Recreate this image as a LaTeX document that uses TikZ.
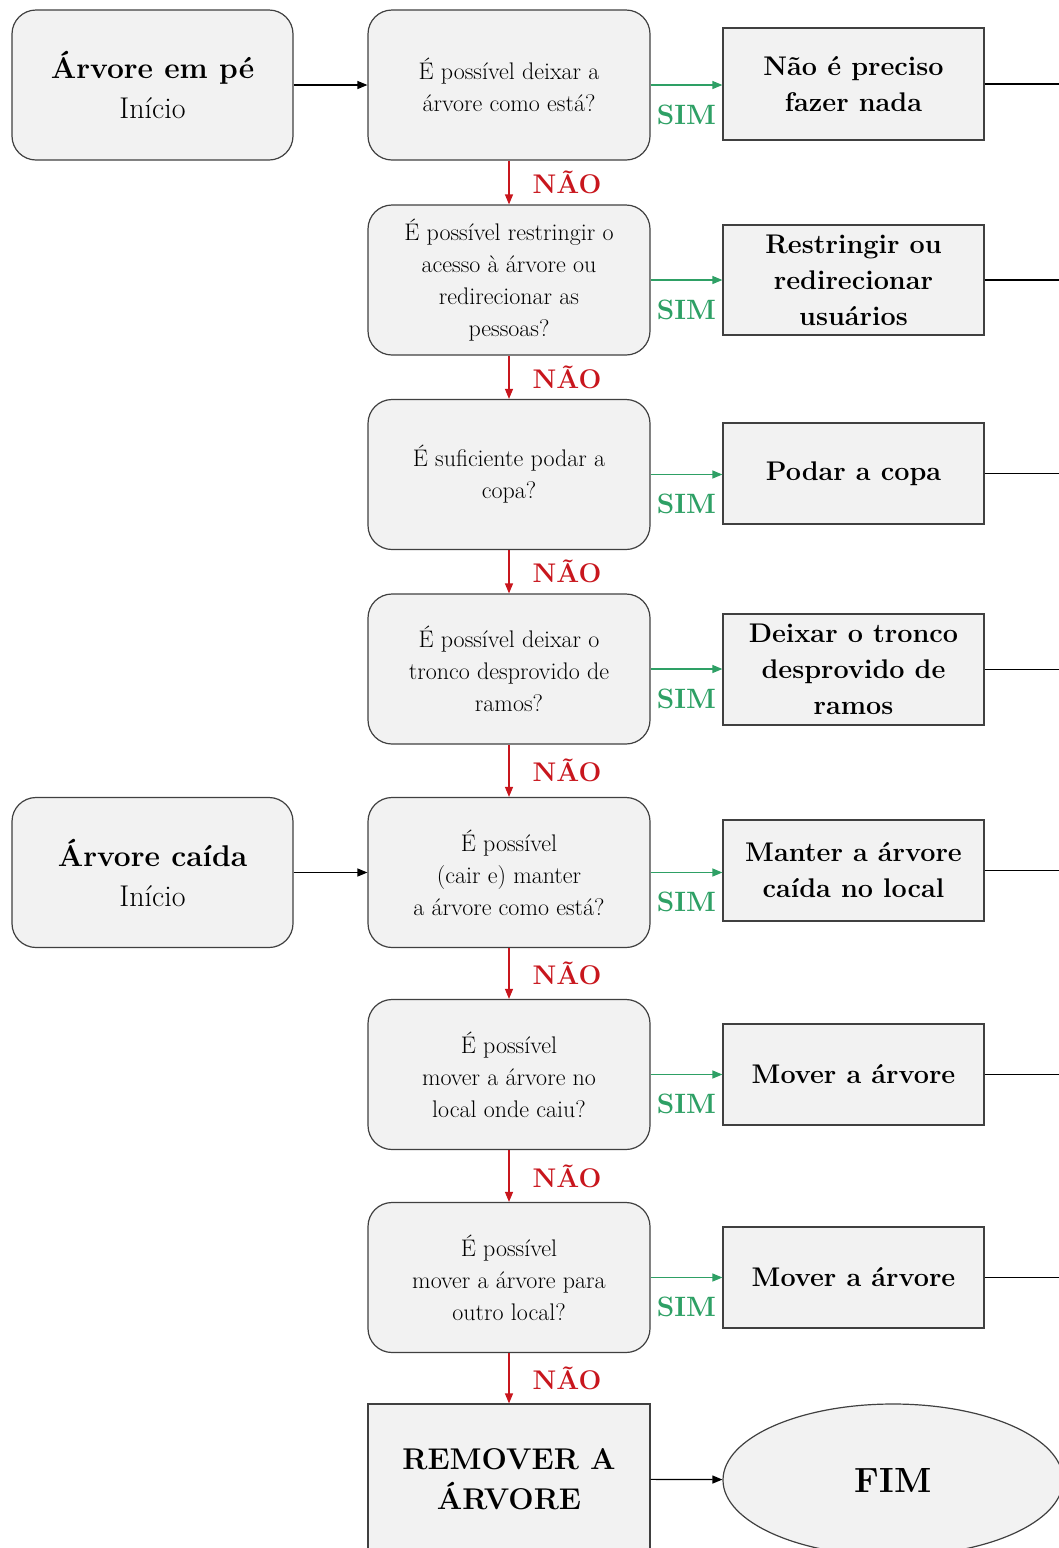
\documentclass[tikz,border=0pt]{standalone}
\usepackage{fontspec}
\usepackage{xcolor}
\usetikzlibrary{arrows.meta,shapes.geometric,positioning}
\definecolor{boxgray}{HTML}{F2F2F2}
\definecolor{edgegray}{HTML}{404040}
\definecolor{simgreen}{HTML}{2EA065}
\definecolor{naored}{HTML}{C8161D}

\begin{document}
\begin{tikzpicture}[x=1pt, y=-1pt,
    start/.style={draw=edgegray, fill=boxgray, rounded corners=24pt, line width=1.2pt,
        minimum width=281pt, minimum height=150pt, align=center, inner sep=0pt,
        font=\fontsize{30}{40}\selectfont},
    ask/.style={start, minimum width=282pt, font=\fontsize{24}{32}\selectfont},
    act/.style={draw=edgegray, fill=boxgray, line width=1.2pt, minimum width=261pt,
        align=center, inner sep=0pt, font=\bfseries\fontsize{27}{36}\selectfont},
    flow/.style={line width=1.2pt, -{Triangle[length=10pt, width=8pt]}},
    yes/.style={flow, simgreen},
    no/.style={flow, naored},
    simlabel/.style={text=simgreen, inner sep=0pt, font=\bfseries\fontsize{28}{28}\selectfont},
    naolabel/.style={text=naored, inner sep=0pt, font=\bfseries\fontsize{27}{27}\selectfont}]

    \clip (0,0) rectangle (1059,1548);

    % Define the nodes with specific positions
    \node[start] (S1) at (152.5, 85) {\textbf{Árvore em pé}\\Início};
    \node[start] (S2) at (152.5, 872.5) {\textbf{Árvore caída}\\Início};

    \node[ask] (Q1) at (509, 85) {É possível deixar a\\árvore como está?};
    \node[ask] (Q2) at (509, 280) {É possível restringir o\\acesso à árvore ou\\redirecionar as\\pessoas?};
    \node[ask] (Q3) at (509, 474.5) {É suficiente podar a\\copa?};
    \node[ask] (Q4) at (509, 669) {É possível deixar o\\tronco desprovido de\\ramos?};
    \node[ask] (Q5) at (509, 872.5) {É possível\\(cair e) manter\\a árvore como está?};
    \node[ask] (Q6) at (509, 1074.5) {É possível\\mover a árvore no\\local onde caiu?};
    \node[ask] (Q7) at (509, 1277.5) {É possível\\mover a árvore para\\outro local?};

    \node[act, minimum height=112pt] (R1) at (853.5, 84) {Não é preciso\\fazer nada};
    \node[act, minimum height=110pt] (R2) at (853.5, 280) {Restringir ou\\redirecionar\\usuários};
    \node[act, minimum height=101pt] (R3) at (853.5, 473.5) {Podar a copa};
    \node[act, minimum height=111pt] (R4) at (853.5, 669.5) {Deixar o tronco\\desprovido de\\ramos};
    \node[act, minimum height=101pt] (R5) at (853.5, 870.5) {Manter a árvore\\caída no local};
    \node[act, minimum height=101pt] (R6) at (853.5, 1074.5) {Mover a árvore};
    \node[act, minimum height=101pt] (R7) at (853.5, 1277.5) {Mover a árvore};

    \node[act, minimum width=282pt, minimum height=150pt,
        font=\bfseries\fontsize{30}{40}\selectfont] (REM) at (509, 1479) {REMOVER A\\ÁRVORE};
    \node[ellipse, draw=edgegray, fill=boxgray, line width=1.2pt, minimum width=340pt,
        minimum height=152pt, font=\bfseries\fontsize{35}{40}\selectfont] (FIM) at (893, 1480) {FIM};

    \coordinate (rim) at (1059, 0);

    % Draw the edges between nodes
    \draw[flow] (S1) -- (Q1);
    \draw[flow] (S2) -- (Q5);
    \draw[flow] (REM) -- (FIM);

    \foreach \i in {1,...,7}
        \draw[yes] (Q\i.east) -- (Q\i.east -| R\i.west) node[midway, below=19pt, simlabel] {SIM};

    \foreach \i/\j in {1/2, 2/3, 3/4, 4/5, 5/6, 6/7}
        \draw[no] (Q\i) -- (Q\j) node[midway, right=23pt, naolabel] {NÃO};
    \draw[no] (Q7) -- (REM) node[midway, right=23pt, naolabel] {NÃO};

    \foreach \i in {1,...,7}
        \draw[line width=1.2pt] (R\i.east) -- (R\i.east -| rim);
\end{tikzpicture}
\end{document}
